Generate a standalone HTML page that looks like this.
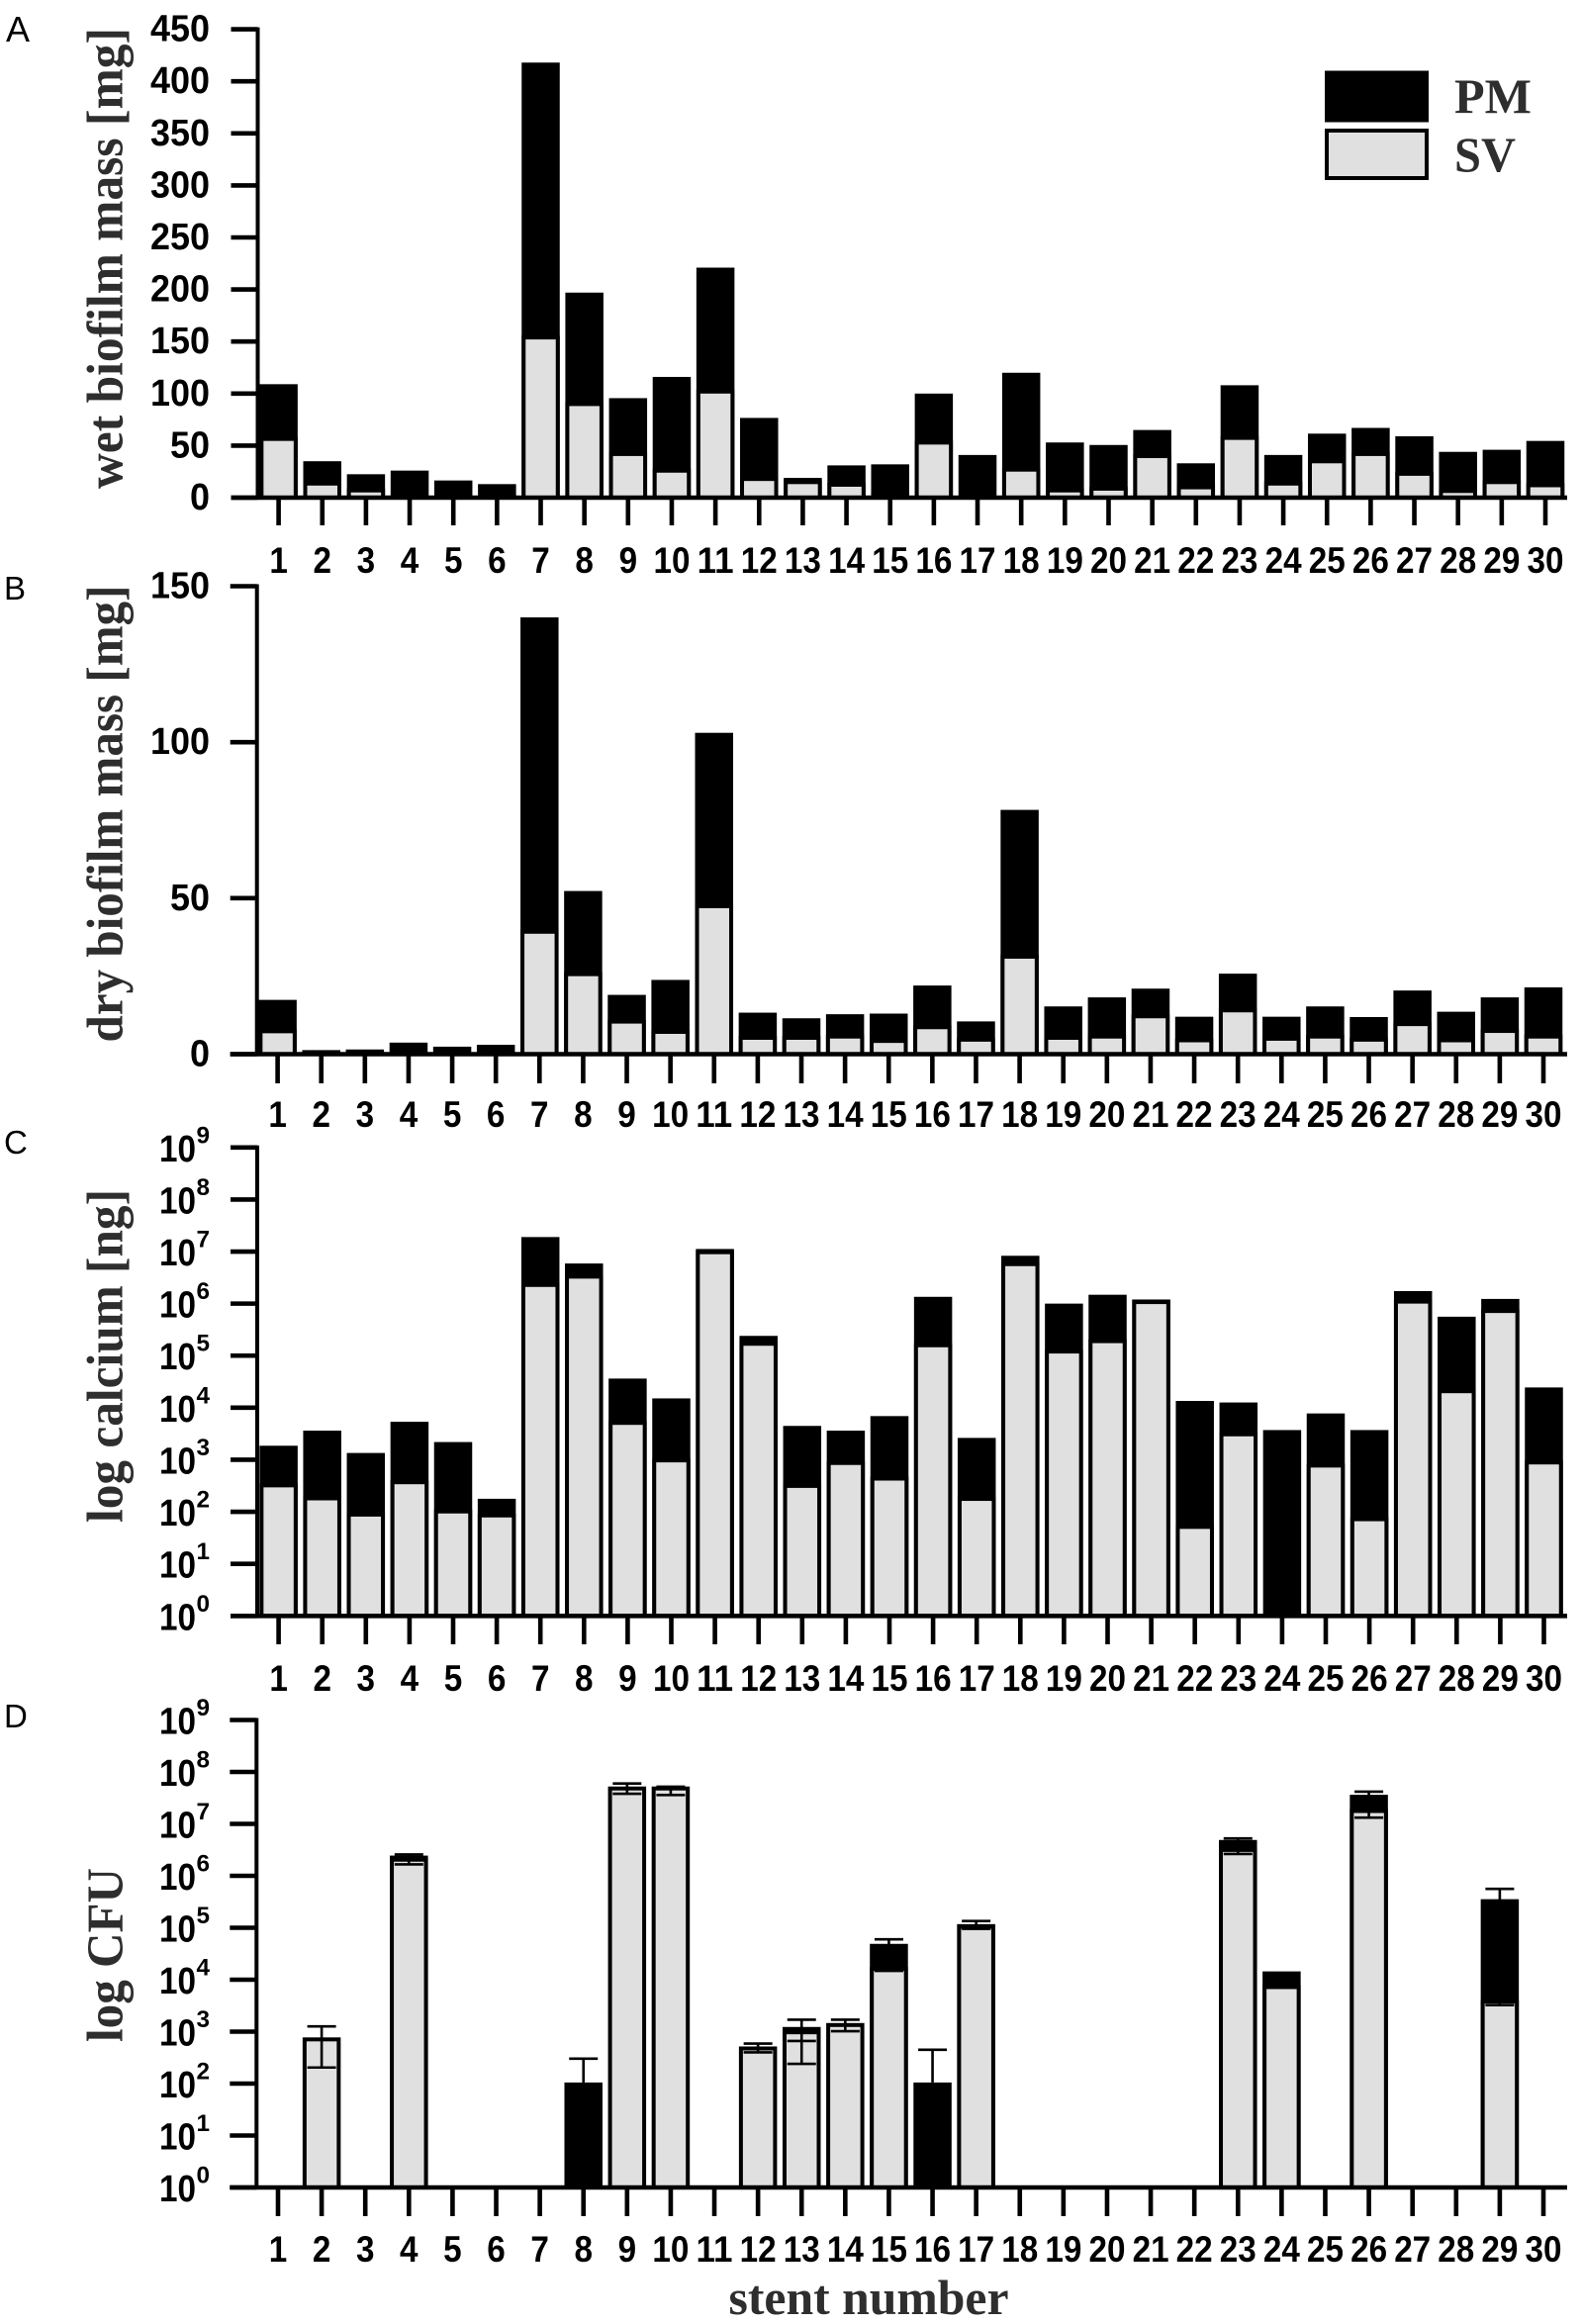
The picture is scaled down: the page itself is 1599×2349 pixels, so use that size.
<!DOCTYPE html>
<html lang="en">
<head>
<meta charset="utf-8">
<title>Biofilm mass, calcium and CFU per stent</title>
<style>
html,body{margin:0;padding:0;background:#fff;}
svg{display:block;}
.num{font-family:"Liberation Sans",Arial,sans-serif;font-weight:700;fill:#000;}
.title{font-family:"Liberation Serif","Times New Roman",serif;font-weight:700;fill:#2e2e2e;}
.letter{font-family:"Liberation Sans",Arial,sans-serif;font-size:33px;fill:#000;}
</style>
</head>
<body>
<svg id="figure" xmlns="http://www.w3.org/2000/svg" width="1599" height="2349" viewBox="0 0 1599 2349">
  <rect x="0" y="0" width="1599" height="2349" fill="#ffffff"/>
  <text class="letter" x="6" y="42" style="font-size:36px">A</text>
  <text class="letter" x="4" y="606">B</text>
  <text class="letter" x="4" y="1166">C</text>
  <text class="letter" x="4" y="1746">D</text>

  <text class="title" font-size="52" textLength="466" lengthAdjust="spacingAndGlyphs" transform="translate(123.5 494) rotate(-90)">wet biofilm mass [mg]</text>
  <text class="title" font-size="52" textLength="462" lengthAdjust="spacingAndGlyphs" transform="translate(123.5 1053.5) rotate(-90)">dry biofilm mass [mg]</text>
  <text class="title" font-size="52" textLength="337" lengthAdjust="spacingAndGlyphs" transform="translate(123.5 1539) rotate(-90)">log calcium [ng]</text>
  <text class="title" font-size="52" textLength="176" lengthAdjust="spacingAndGlyphs" transform="translate(123.5 2064) rotate(-90)">log CFU</text>
  <text class="title" font-size="50" text-anchor="middle" textLength="283" lengthAdjust="spacingAndGlyphs" x="878" y="2339">stent number</text>

  <g>
    <rect x="1339" y="71.5" width="105" height="52" fill="#000000"/>
    <text class="title" font-size="50" textLength="78" lengthAdjust="spacingAndGlyphs" x="1470" y="114">PM</text>
    <rect x="1341" y="132" width="101" height="48" fill="#e0e0e0" stroke="#000000" stroke-width="4"/>
    <text class="title" font-size="50" textLength="62" lengthAdjust="spacingAndGlyphs" x="1470" y="173">SV</text>
  </g>
</svg>

<script>
const stentNumbers = [1,2,3,4,5,6,7,8,9,10,11,12,13,14,15,16,17,18,19,20,21,22,23,24,25,26,27,28,29,30];

const wetTickLabels = [0,50,100,150,200,250,300,350,400,450];
const wetSV = [54.5,11.6,5,0,0,0,152,88,40,24,100,16,13,10.5,1,51,0,25,5,6.7,38,8,55.5,11.6,33,40,21,4.5,13,10];
const wetPM = [54.5,23.4,17.5,26,16.5,13,266,109,55.6,92,121,60.6,6,20.5,31,49,41,95,48,43.9,27,25,52.5,29.4,28.5,27,38,39.5,33,44.5];

const dryTickLabels = [0,50,100,150];
const drySV = [6.7,0,0,0,0,0,38.6,25,9.8,6.5,46.8,4.6,4.6,5,3.6,8,4,30.6,4.6,5,11.5,3.8,13.4,4.3,5,4,9,3.8,6.8,5];
const dryPM = [10.7,1.3,1.5,3.7,2.4,3,101.4,27.3,9.2,17.3,56.2,8.7,6.9,7.8,9.4,14,6.5,47.7,10.7,13.2,9.5,8.2,12.4,7.7,10.3,7.9,11.4,9.8,11.4,16.4];

const logTickExponents = [0,1,2,3,4,5,6,7,8,9];
const calciumSV = [295,166,81,339,93,78,2090000,3020000,4680,891,8900000,155000,288,794,398,145000,162,5250000,110000,174000,980000,47,2820,0,708,66,1000000,19000,660000,813];
const calciumPM = [1565,3464,1269,5031,2097,100,16910000,2880000,31620,14209,2300000,85000,4182,2836,6502,1205000,2468,3050000,890000,1306000,220000,13453,9780,3720,7052,3654,740000,541000,570000,23687];

const cfuSV = [0,650,0,1870000,0,0,0,0,44000000,44000000,0,435,890,1230,14800,0,95500,0,0,0,0,0,2880000,6600,0,16200000,0,0,3470,0];
const cfuPM = [0,0,0,580000,0,0,0,105,0,0,0,0,340,0,34200,105,22000,0,0,0,0,0,2020000,7850,0,20100000,0,0,351500,0];
const cfuErrUpper = [0,1260,0,2570000,0,0,0,302,60000000,52000000,0,590,1700,1700,60000,447,135000,0,0,0,0,0,5250000,0,0,41700000,0,0,560000,0];
const cfuErrLower = [0,204,0,1660000,0,0,0,0,38000000,36000000,0,400,240,1020,14800,0,95500,0,0,0,0,0,2630000,0,0,13200000,0,0,3240,0];
const cfuErrInner = [0,0,0,0,0,0,0,0,0,0,0,0,660,0,0,0,0,0,0,0,0,0,0,0,0,0,0,0,0,0];

const svgNS = 'http://www.w3.org/2000/svg';
const figure = document.getElementById('figure');
const BAR_OUTER = 38.5;
const SV_STROKE = 4;

function make(tag, attrs, parent) {
  const el = document.createElementNS(svgNS, tag);
  for (const k in attrs) el.setAttribute(k, attrs[k]);
  parent.appendChild(el);
  return el;
}

function linearScale(max, y0, yTop) {
  return function (v) { return y0 - (v / max) * (y0 - yTop); };
}
function logScale(maxExp, y0, yTop) {
  return function (v) {
    if (v <= 1) return y0;
    return y0 - (Math.log10(v) / maxExp) * (y0 - yTop);
  };
}

function drawPanel(cfg) {
  const g = make('g', {}, figure);
  
  
  const xOf = function (n) { return cfg.x1 + (n - 1) * (cfg.x30 - cfg.x1) / 29; };
  const y = cfg.scale;
  const half = BAR_OUTER / 2;

  stentNumbers.forEach(function (n, i) {
    const sv = cfg.sv[i];
    const pm = cfg.pm[i];
    const cx = xOf(n);
    if (pm > 0) {
      const topY = y(sv + pm);
      const pmBar = make('rect', { x: cx - half, y: topY, width: BAR_OUTER, height: cfg.y0 - topY, fill: '#000000' }, g);
      
      
    }
    if (sv > 0) {
      const svY = y(sv);
      const inset = SV_STROKE / 2;
      const svBar = make('rect', {
        x: cx - half + inset, y: svY - inset, width: BAR_OUTER - SV_STROKE, height: cfg.y0 - svY + inset,
        fill: '#e0e0e0', stroke: '#000000', 'stroke-width': SV_STROKE
      }, g);
      
      
    }
  });

  if (cfg.errUpper) {
    stentNumbers.forEach(function (n, i) {
      const up = cfg.errUpper[i];
      if (!(up > 0)) return;
      const cx = xOf(n);
      const barTop = cfg.sv[i] + cfg.pm[i];
      const low = cfg.errLower[i] > 0 ? cfg.errLower[i] : barTop;
      const eb = make('g', { stroke: '#000000', 'stroke-width': 2.6, fill: 'none' }, g);
      
      
      make('line', { x1: cx, x2: cx, y1: y(up), y2: y(low) }, eb);
      make('line', { x1: cx - 14.5, x2: cx + 14.5, y1: y(up), y2: y(up) }, eb);
      if (cfg.errLower[i] > 0) {
        make('line', { x1: cx - 14.5, x2: cx + 14.5, y1: y(low), y2: y(low) }, eb);
      }
      if (cfg.errInner[i] > 0) {
        make('line', { x1: cx - 14.5, x2: cx + 14.5, y1: y(cfg.errInner[i]), y2: y(cfg.errInner[i]) }, eb);
      }
    });
  }

  const yAxis = make('line', { x1: cfg.axisX, x2: cfg.axisX, y1: cfg.yTop - 2, y2: cfg.y0 + 2, stroke: '#000000', 'stroke-width': 4 }, g);
  
  

  const xAxis = make('line', { x1: cfg.axisX - 27, x2: 1584, y1: cfg.y0, y2: cfg.y0, stroke: '#000000', 'stroke-width': 4.6 }, g);
  
  

  cfg.ticks.forEach(function (t) {
    const v = cfg.isLog ? Math.pow(10, t) : t;
    const ty = y(v);
    const tick = make('line', { x1: cfg.axisX - 27, x2: cfg.axisX, y1: ty, y2: ty, stroke: '#000000', 'stroke-width': 4.6 }, g);
    
    
    if (cfg.isLog) {
      const base = make('text', { class: 'num', 'font-size': 38, x: 161, y: ty + 14, textLength: 37, lengthAdjust: 'spacingAndGlyphs' }, g);
      base.textContent = '10';
      
      
      const exp = make('text', { class: 'num', 'font-size': 24, x: 198.5, y: ty - 4.5, textLength: 13.5, lengthAdjust: 'spacingAndGlyphs' }, g);
      exp.textContent = String(t);
      
      
    } else {
      const s = String(t);
      const w = 20 * s.length;
      const lab = make('text', { class: 'num', 'font-size': 38, x: 212 - w, y: ty + 12, textLength: w, lengthAdjust: 'spacingAndGlyphs' }, g);
      lab.textContent = s;
      
      
    }
  });

  stentNumbers.forEach(function (n) {
    const cx = xOf(n);
    const tick = make('line', { x1: cx, x2: cx, y1: cfg.y0, y2: cfg.tickEnd, stroke: '#000000', 'stroke-width': 4.6 }, g);
    
    
    const s = String(n);
    const w = 18.5 * s.length;
    const lab = make('text', { class: 'num', 'font-size': 37, x: cx - w / 2, y: cfg.labelY, textLength: w, lengthAdjust: 'spacingAndGlyphs' }, g);
    lab.textContent = s;
    
    
  });
}

drawPanel({ key: 'wet-mass', sv: wetSV, pm: wetPM, ticks: wetTickLabels, isLog: false,
  scale: linearScale(450, 503, 29.6), y0: 503, yTop: 29.6, axisX: 260.5, x1: 281.6, x30: 1562, tickEnd: 531, labelY: 579 });
drawPanel({ key: 'dry-mass', sv: drySV, pm: dryPM, ticks: dryTickLabels, isLog: false,
  scale: linearScale(150, 1065.5, 592.5), y0: 1065.5, yTop: 592.5, axisX: 259.7, x1: 280.6, x30: 1560, tickEnd: 1095, labelY: 1139 });
drawPanel({ key: 'calcium', sv: calciumSV, pm: calciumPM, ticks: logTickExponents, isLog: true,
  scale: logScale(9, 1633.3, 1159.8), y0: 1633.3, yTop: 1159.8, axisX: 260, x1: 281.6, x30: 1560.5, tickEnd: 1662, labelY: 1709 });
drawPanel({ key: 'cfu', sv: cfuSV, pm: cfuPM, ticks: logTickExponents, isLog: true, errUpper: cfuErrUpper, errLower: cfuErrLower, errInner: cfuErrInner,
  scale: logScale(9, 2211, 1738.5), y0: 2211, yTop: 1738.5, axisX: 259.3, x1: 281, x30: 1560, tickEnd: 2240, labelY: 2286 });
</script>
</body>
</html>
